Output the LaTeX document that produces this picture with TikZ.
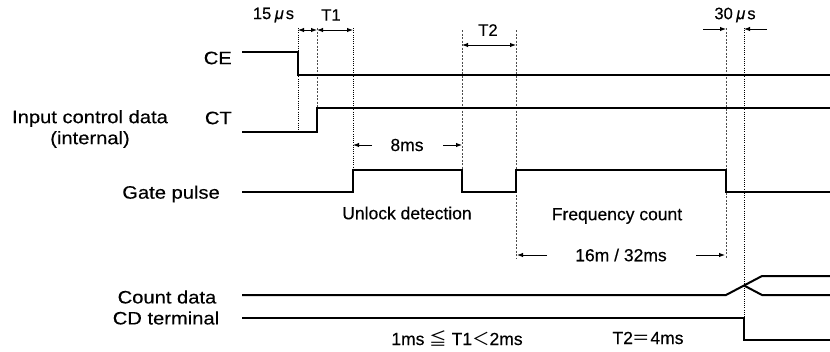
\documentclass[tikz,border=0pt]{standalone}
\usepackage{fontspec}
\setmainfont{Liberation Sans}[FakeBold=0.3]
\newfontfamily\labfont{Liberation Sans}[FakeStretch=1.12,FakeBold=0.3]
\newfontfamily\cjk{Noto Sans CJK JP}
\usetikzlibrary{arrows.meta}
\begin{document}
\begin{tikzpicture}[x=1pt,y=-1pt,
  sig/.style={line width=2pt, line join=miter, line cap=butt},
  dota/.style={line width=1pt, dash pattern=on 1pt off 1.2pt},
  dotb/.style={line width=0.6pt, dash pattern=on 2pt off 1.5pt, black!70},
  dim/.style={line width=1pt, {Latex[length=6pt,width=4.5pt]}-{Latex[length=6pt,width=4.5pt]}},
  dimr/.style={line width=1pt, -{Latex[length=6pt,width=4.5pt]}},
  lab/.style={inner sep=0pt, font=\labfont\fontsize{18}{21}\selectfont},
  ann/.style={inner sep=0pt, font=\fontsize{17.5}{20}\selectfont},
  sml/.style={inner sep=0pt, font=\fontsize{16.5}{20}\selectfont}]
\useasboundingbox (0,0) rectangle (830,351);

% labels
\node[lab, anchor=east] (ce) at (232,58) {CE};
\node[lab, anchor=east] (ct) at (232,118) {CT};
\node[lab, align=center] (icd) at (90,129) {Input control data\\(internal)};
\node[lab, anchor=east] (gp) at (220,194) {Gate pulse};
\node[lab] (cdat) at (167,297) {Count data};
\node[lab] (cdt) at (166,318) {CD terminal};

% vertical reference lines
\coordinate (a1) at (298,28);  \coordinate (a2) at (298,132);
\coordinate (b1) at (317,28);  \coordinate (b2) at (317,108);
\coordinate (c1) at (353,28);  \coordinate (c2) at (353,170);
\coordinate (d1) at (462,30);  \coordinate (d2) at (462,170);
\coordinate (e1) at (516,30);  \coordinate (e2) at (516,258);
\coordinate (f1) at (726,28);  \coordinate (f2) at (726,258);
\coordinate (g1) at (744,28);  \coordinate (g2) at (744,318);
\draw[dota] (a1) -- (a2);
\draw[dotb] (b1) -- (b2);
\draw[dota] (c1) -- (c2);
\draw[dotb] (d1) -- (d2);
\draw[dotb] (e1) -- (e2);
\draw[dotb] (f1) -- (f2);
\draw[dota] (g1) -- (g2);

% signals
\draw[sig] (242,52) -- (298,52) -- (298,75) -- (830,75);
\draw[sig] (242,132) -- (317,132) -- (317,108) -- (830,108);
\draw[sig] (242,192) -- (353,192) -- (353,170) -- (462,170) -- (462,192)
  -- (516,192) -- (516,170) -- (726,170) -- (726,192) -- (830,192);
\draw[sig] (242,295) -- (726,295) -- (762,276) -- (830,276);
\draw[sig] (744,285.5) -- (762,295) -- (830,295);
\draw[sig] (242,318) -- (744,318) -- (744,340) -- (830,340);

% dimension arrows
\draw[dim] (298,30) -- (317,30);
\draw[dim] (317,30) -- (353,30);
\draw[dim] (462,45) -- (516,45);
\draw[dimr] (703,29) -- (726,29);
\draw[dimr] (767,29) -- (744,29);
\draw[dimr] (372,145) -- (353,145);
\draw[dimr] (443,145) -- (462,145);
\draw[dimr] (547,255) -- (517,255);
\draw[dimr] (696,255) -- (725,255);

% annotation texts
\node[sml] (t15) at (273.5,15) {15\hspace{3.5pt}{\itshape μ}\hspace{2pt}s};
\node[sml] (tt1) at (331,15) {T1};
\node[sml] (tt2) at (488,30) {T2};
\node[sml] (t30) at (735,15) {30\hspace{3.5pt}{\itshape μ}\hspace{2pt}s};
\node[ann] (t8) at (407,145) {8ms};
\node[ann] (tul) at (407,213) {Unlock detection};
\node[ann] (tfc) at (617,216) {Frequency count};
\node[ann] (t16) at (621,255) {16m / 32ms};
\node[ann] (tr1) at (457,338) {1ms {\cjk ≦} T1{\cjk ＜}2ms};
\node[ann] (tr2) at (648,338) {T2{\cjk ＝}4ms};
\end{tikzpicture}
\end{document}
